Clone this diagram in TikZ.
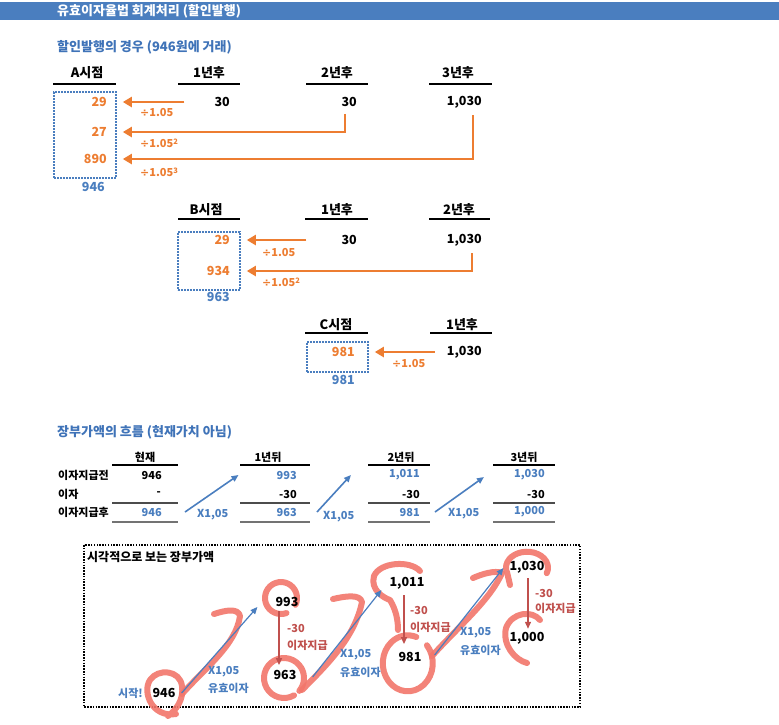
\documentclass[tikz,border=0pt]{standalone}
\usepackage{fontspec}
\setmainfont{Noto Sans CJK KR}
\newfontfamily\symf{DejaVu Sans}
\usetikzlibrary{arrows.meta,calc}
\definecolor{barc}{HTML}{4A7EBF}
\definecolor{ora}{HTML}{ED7D31}
\definecolor{blu}{HTML}{4A7EBF}
\definecolor{bluT}{HTML}{3F73B8}
\definecolor{redA}{HTML}{C0504D}
\definecolor{scr}{HTML}{F2766B}
\newcommand{\dv}{{\symf\bfseries ÷}}
\newcommand{\pw}[1]{\raisebox{0.5ex}{\fontsize{7.5}{7.5}\selectfont #1}}
\tikzset{
  t/.style={inner sep=0pt, font=\bfseries\fontsize{12.5}{12.5}\selectfont},
  tt/.style={inner sep=0pt, font=\bfseries\fontsize{13}{13}\selectfont},
  hd/.style={inner sep=0pt, font=\bfseries\fontsize{13}{13}\selectfont},
  sm/.style={inner sep=0pt, font=\bfseries\fontsize{11}{11}\selectfont},
  lab/.style={inner sep=0pt, anchor=west, font=\bfseries\fontsize{11}{11}\selectfont},
  ul/.style={line width=1.3pt},
  ulg/.style={line width=1.1pt, black!70},
  oarr/.style={ora, line width=2.2pt, -{Triangle[length=9pt,width=10pt]}},
  barr/.style={blu, line width=1.6pt, -{Triangle[length=7pt,width=6pt]}},
  rarr/.style={redA, line width=1.4pt, -{Triangle[length=7pt,width=6pt]}},
  dbox/.style={draw=blu, line width=1.6pt, dash pattern=on 1.6pt off 1.4pt, inner sep=0pt},
  scrib/.style={scr, line width=6pt, line cap=round, line join=round, opacity=0.9}
}
\begin{document}
\begin{tikzpicture}[x=1pt,y=-1pt]
\useasboundingbox (0,0) rectangle (779,724);
\fill[white] (0,0) rectangle (779,724);
% header bar
\fill[barc] (0,2) rectangle (779,20);
\node[tt, anchor=west, white] (title) at (57,11) {유효이자율법 회계처리 (할인발행)};
\node[tt, anchor=west, bluT] (sub1) at (57,47) {할인발행의 경우 (946원에 거래)};

% ---------- A
\node[hd] (hA) at (87,73) {A시점};
\node[hd] (hA1) at (209,73) {1년후};
\node[hd] (hA2) at (337,73) {2년후};
\node[hd] (hA3) at (458,73) {3년후};
\draw[ul] (53,84) -- (116,84);
\draw[ul] (178,84) -- (240,84);
\draw[ul] (306,84) -- (368,84);
\draw[ul] (429,84) -- (492,84);
\node[t, anchor=east] (a1) at (230,102) {30};
\node[t, anchor=east] (a2) at (357,102) {30};
\node[t, anchor=east] (a3) at (482,102) {1,030};
\node[t, anchor=east, ora] (pa1) at (107,102) {29};
\node[t, anchor=east, ora] (pa2) at (107,132) {27};
\node[t, anchor=east, ora] (pa3) at (107,159) {890};
\node[t, anchor=east, blu] (sa) at (105,187) {946};
\node[dbox, minimum width=62pt, minimum height=86pt] (boxA) at (85,135) {};
\draw[oarr] ([xshift=-30pt]a1.west) -- ($(boxA.east |- pa1)+(6,0)$);
\draw[oarr] ([xshift=-4pt,yshift=-7pt]a2.south) |- ($(boxA.east |- pa2)+(6,0)$);
\draw[oarr] ([xshift=-9pt,yshift=-7pt]a3.south east) |- ($(boxA.east |- pa3)+(6,0)$);
\node[lab, ora] (la1) at (140,113) {\dv1.05};
\node[lab, ora] (la2) at (140,143) {\dv1.05\pw{2}};
\node[lab, ora] (la3) at (140,172) {\dv1.05\pw{3}};

% ---------- B
\node[hd] (hB) at (206,210) {B시점};
\node[hd] (hB1) at (337,210) {1년후};
\node[hd] (hB2) at (459,210) {2년후};
\draw[ul] (178,219) -- (240,219);
\draw[ul] (305,219) -- (368,219);
\draw[ul] (429,219) -- (490,219);
\node[t, anchor=east] (b1) at (357,240) {30};
\node[t, anchor=east] (b2) at (482,240) {1,030};
\node[t, anchor=east, ora] (pb1) at (230,240) {29};
\node[t, anchor=east, ora] (pb2) at (230,271) {934};
\node[t, anchor=east, blu] (sb) at (230,297) {963};
\node[dbox, minimum width=62pt, minimum height=58pt] (boxB) at (209,261) {};
\draw[oarr] ([xshift=-35pt]b1.west) -- ($(boxB.east |- pb1)+(6,0)$);
\draw[oarr] ([xshift=-10pt,yshift=-7pt]b2.south east) |- ($(boxB.east |- pb2)+(6,0)$);
\node[lab, ora] (lb1) at (262,252) {\dv1.05};
\node[lab, ora] (lb2) at (262,282) {\dv1.05\pw{2}};

% ---------- C
\node[hd] (hC) at (336,325) {C시점};
\node[hd] (hC1) at (462,325) {1년후};
\draw[ul] (305,333) -- (368,333);
\draw[ul] (430,333) -- (492,333);
\node[t, anchor=east] (c1) at (482,352) {1,030};
\node[t, anchor=east, ora] (pc1) at (355,352) {981};
\node[t, anchor=east, blu] (sc) at (355,380) {981};
\node[dbox, minimum width=61pt, minimum height=30pt] (boxC) at (337.5,357) {};
\draw[oarr] ([xshift=-12pt]c1.west) -- ($(boxC.east |- pc1)+(6,0)$);
\node[lab, ora] (lc1) at (392,363) {\dv1.05};

% ---------- table
\node[tt, anchor=west, bluT] (sub2) at (57,432) {장부가액의 흐름 (현재가치 아님)};
\node[sm] (t0) at (145,457) {현재};
\node[sm] (t1) at (268,457) {1년뒤};
\node[sm] (t2) at (401,457) {2년뒤};
\node[sm] (t3) at (524,457) {3년뒤};
\node[sm, anchor=west] (r1) at (58,475) {이자지급전};
\node[sm, anchor=west] (r2) at (58,494) {이자};
\node[sm, anchor=west] (r3) at (58,512) {이자지급후};
\foreach \a/\b in {112/178, 240/310, 368/430, 493/555}{
  \draw[ul] (\a,465) -- (\b,465);
  \draw[ulg] (\a,503) -- (\b,503);
  \draw[ulg, black!55] (\a,522) -- (\b,522);
}
\node[sm, anchor=east] (v01) at (162,475) {946};
\node[sm, anchor=east] (v02) at (161,494) {-};
\node[sm, anchor=east, blu] (v03) at (162,512) {946};
\node[sm, anchor=east, blu] (v11) at (297,475) {993};
\node[sm, anchor=east] (v12) at (297,494) {-30};
\node[sm, anchor=east, blu] (v13) at (297,512) {963};
\node[sm, anchor=east, blu] (v21) at (420,475) {1,011};
\node[sm, anchor=east] (v22) at (420,494) {-30};
\node[sm, anchor=east, blu] (v23) at (420,512) {981};
\node[sm, anchor=east, blu] (v31) at (545,475) {1,030};
\node[sm, anchor=east] (v32) at (545,494) {-30};
\node[sm, anchor=east, blu] (v33) at (545,512) {1,000};
\draw[barr] ([xshift=23pt]v03.east) -- ([xshift=-38pt]v11.west);
\draw[barr] ([xshift=20pt]v13.east) -- ([xshift=-38pt]v21.west);
\draw[barr] ([xshift=15pt]v23.east) -- ([xshift=-30pt,yshift=-2pt]v31.west);
\node[lab, blu] (x1) at (197,515) {X1,05};
\node[lab, blu] (x2) at (323,517) {X1,05};
\node[lab, blu] (x3) at (448,514) {X1,05};

% ---------- visual box
\draw[line width=1.5pt, dash pattern=on 1.5pt off 1.3pt] (84,545) rectangle (580,707);
\node[sm, anchor=west, font=\bfseries\fontsize{12}{12}\selectfont] (vt) at (87,557) {시각적으로 보는 장부가액};

% scribbles
\draw[scrib] (176,714) .. controls (152,718) and (142,692) .. (150,680) .. controls (158,668) and (180,670) .. (182,686) .. controls (184,700) and (176,710) .. (168,716);
\draw[scrib] (182,694) .. controls (205,668) and (236,645) .. (240,616) .. controls (238,608) and (226,610) .. (214,614);
\draw[scrib] (281,598) ++(70:16) arc[start angle=70, end angle=385, radius=16];
\draw[scrib] (284,678) ++(60:20) arc[start angle=60, end angle=400, radius=20];
\draw[scrib] (302,690) .. controls (330,662) and (355,636) .. (362,602) .. controls (360,594) and (346,596) .. (333,599);
\draw[scrib] (420,571) .. controls (410,560) and (380,562) .. (374,576) .. controls (370,590) and (384,598) .. (390,600) .. controls (396,610) and (398,620) .. (398,630);
\draw[scrib] (407,662) ++(-40:26) arc[start angle=-40, end angle=290, x radius=25, y radius=28];
\draw[scrib] (432,656) .. controls (460,625) and (490,600) .. (502,573) .. controls (495,570) and (482,574) .. (473,578);
\draw[scrib] (527,566) ++(20:21) arc[start angle=20, end angle=-200, x radius=21, y radius=16] -- (510,585);
\draw[scrib] (540,620) .. controls (532,610) and (512,612) .. (506,628) .. controls (502,645) and (515,660) .. (527,663);

% nodes
\node[t] (n0) at (164,693) {946};
\node[t] (n1) at (287,602) {993};
\node[t] (n2) at (285,675) {963};
\node[t] (n3) at (407,583) {1,011};
\node[t] (n4) at (410,657) {981};
\node[t] (n5) at (527,567) {1,030};
\node[t] (n6) at (527,638) {1,000};
\node[sm, anchor=east, blu] (start) at (143,693) {시작!};
\draw[barr, line width=1.2pt] ([xshift=6pt]n0.east) -- ([xshift=-18pt,yshift=-5pt]n1.west);
\draw[barr, line width=1.2pt] ([xshift=16pt,yshift=-2pt]n2.east) -- ([xshift=-8pt,yshift=-7pt]n3.west);
\draw[barr, line width=1.2pt] ([xshift=13pt,yshift=2pt]n4.east) -- ([xshift=-6pt,yshift=-1pt]n5.west);
\draw[rarr] ([xshift=-8pt,yshift=-4pt]n1.south) -- ([xshift=-6pt,yshift=5pt]n2.north);
\draw[rarr] ([xshift=-3pt,yshift=-6pt]n3.south) -- ([xshift=-6pt,yshift=8pt]n4.north);
\draw[rarr] ([xshift=1pt,yshift=-5pt]n5.south) -- ([xshift=1pt,yshift=3pt]n6.north);
\node[lab, redA] (m1) at (287,628) {-30};
\node[lab, redA] (m2) at (287,645) {이자지급};
\node[lab, redA] (m3) at (410,610) {-30};
\node[lab, redA] (m4) at (410,627) {이자지급};
\node[lab, redA] (m5) at (535,593) {-30};
\node[lab, redA] (m6) at (535,608) {이자지급};
\node[lab, blu] (y1) at (208,672) {X1,05};
\node[lab, blu] (y2) at (208,688) {유효이자};
\node[lab, blu] (y3) at (340,655) {X1,05};
\node[lab, blu] (y4) at (340,672) {유효이자};
\node[lab, blu] (y5) at (460,633) {X1,05};
\node[lab, blu] (y6) at (460,650) {유효이자};
\end{tikzpicture}
\end{document}
